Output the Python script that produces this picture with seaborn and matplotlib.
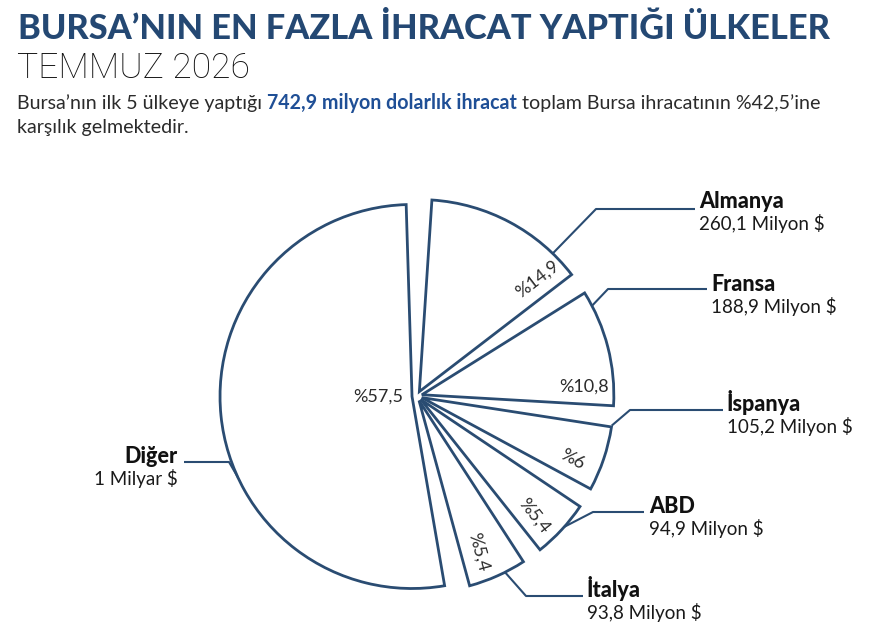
import numpy as np
import matplotlib
matplotlib.use("Agg")
import matplotlib.pyplot as plt
import seaborn as sns

# ---------------- data ----------------
countries = ["Almanya", "Fransa", "İspanya", "ABD", "İtalya", "Diğer"]
amounts = ["260,1 Milyon $", "188,9 Milyon $", "105,2 Milyon $",
           "94,9 Milyon $", "93,8 Milyon $", "1 Milyar $"]
shares = [14.9, 10.8, 6.0, 5.4, 5.4, 57.5]
share_labels = ["%14,9", "%10,8", "%6", "%5,4", "%5,4", "%57,5"]

title = "BURSA’NIN EN FAZLA İHRACAT YAPTIĞI ÜLKELER"
subtitle = "TEMMUZ 2026"
desc_pre = "Bursa’nın ilk 5 ülkeye yaptığı "
desc_bold = "742,9 milyon dolarlık ihracat"
desc_post = " toplam Bursa ihracatının %42,5’ine"
desc_line2 = "karşılık gelmektedir."

# ---------------- style ----------------
sns.set_theme(style="white")
FONT = ["Lato", "DejaVu Sans"]
plt.rcParams["font.family"] = FONT

NAVY = "#244873"
EDGE = "#2a4c72"
BLUE = "#1f4f96"
DARK = "#2b2b2b"

W, H = 882, 636
fig = plt.figure(figsize=(W / 100, H / 100), dpi=100)
fig.patch.set_facecolor("white")
ax = fig.add_axes([0, 0, 1, 1])


def Y(y):  # reference pixel row -> data y (y up)
    return H - y


cx, cy = 417, Y(396)
R = 192
gap = 5.5
start = 89
offset = 5

wedges, _ = ax.pie(
    shares, radius=R, center=(cx, cy), startangle=start, counterclock=False,
    wedgeprops=dict(facecolor="white", edgecolor=EDGE, linewidth=2.0,
                    joinstyle="miter"),
)
ax.set_xlim(0, W)
ax.set_ylim(0, H)
ax.set_aspect("equal")
ax.axis("off")

tot = float(sum(shares))
scale = (360 - len(shares) * gap) / 360.0
cur = start
geo = []
for w, v in zip(wedges, shares):
    span = v / tot * 360 * scale
    a_hi = cur - gap / 2
    a_lo = a_hi - span
    w.set_theta1(a_lo)
    w.set_theta2(a_hi)
    mid = np.radians((a_lo + a_hi) / 2)
    c = (cx + offset * np.cos(mid), cy + offset * np.sin(mid))
    w.set_center(c)
    geo.append((c, a_lo, a_hi))
    cur -= span + gap

# percentage labels
r_t, perp = 162, 17
for i, (lab, (c, a_lo, a_hi)) in enumerate(zip(share_labels, geo)):
    if countries[i] == "Diğer":
        ax.text(c[0] - 9, c[1], lab, ha="right", va="center",
                fontsize=13, color=DARK)
        continue
    a = np.radians(a_lo)
    px = c[0] + r_t * np.cos(a) + perp * np.cos(a + np.pi / 2)
    py = c[1] + r_t * np.sin(a) + perp * np.sin(a + np.pi / 2)
    rot = a_lo if abs(a_lo) > 5 else 0
    ax.text(px, py, lab, ha="center", va="center", rotation=rot,
            rotation_mode="anchor", fontsize=13, color=DARK)

# leader lines + labels (layout in reference pixel coords)
attach_angles = [46, 27.6, -8.4, -41.6, -63.4, 204.8]
knees = [(596, 209), (608, 289), (630, 410), (593, 512), (526, 596), (229, 462)]
ends = [(695, 209), (707, 289), (723, 410), (644, 512), (583, 596), (184, 462)]
name_pos = [(699, 208), (711, 291), (727, 411), (649, 513), (587, 597), (178, 463)]

for i in range(len(countries)):
    c, _, _ = geo[i]
    a = np.radians(attach_angles[i])
    p0 = (c[0] + R * np.cos(a), c[1] + R * np.sin(a))
    xs = [p0[0], knees[i][0], ends[i][0]]
    ys = [p0[1], Y(knees[i][1]), Y(ends[i][1])]
    ax.plot(xs, ys, color=EDGE, lw=1.5, solid_capstyle="butt")
    ha = "right" if countries[i] == "Diğer" else "left"
    nx, ny = name_pos[i]
    ax.text(nx, Y(ny), countries[i], ha=ha, va="baseline", fontsize=15.5,
            fontweight="black", color="#111111")
    ax.text(nx, Y(ny + 22), amounts[i], ha=ha, va="baseline", fontsize=13.5,
            color="#1a1a1a")

# ---------------- header texts ----------------
fig.canvas.draw()
rend = fig.canvas.get_renderer()


def fit(t, target):
    wpx = t.get_window_extent(renderer=rend).width
    t.set_fontsize(t.get_fontsize() * target / wpx)


t_title = ax.text(18, Y(39), title, ha="left", va="baseline", fontsize=28,
                  fontweight="black", color=NAVY)
fit(t_title, 812)
t_sub = ax.text(17, Y(78), subtitle, ha="left", va="baseline", fontsize=25,
                fontweight="light", color="#111111",
                family=["Roboto", "DejaVu Sans"])
fit(t_sub, 233)


def place_line(fs):
    parts = [(desc_pre, "normal", DARK), (desc_bold, "bold", BLUE),
             (desc_post, "normal", DARK)]
    x = 17
    out = []
    for s, wgt, col in parts:
        t = ax.text(x, Y(109), s, ha="left", va="baseline", fontsize=fs,
                    fontweight=wgt, color=col)
        bb = t.get_window_extent(renderer=rend)
        x += bb.width
        out.append(t)
    return out, x - 17


fs = 13.0
ts, width = place_line(fs)
for t in ts:
    t.remove()
fs = fs * 800.0 / width
ts, width = place_line(fs)
ax.text(17, Y(133), desc_line2, ha="left", va="baseline", fontsize=fs,
        fontweight="normal", color=DARK)

fig.savefig("out.png", dpi=100, facecolor="white")
